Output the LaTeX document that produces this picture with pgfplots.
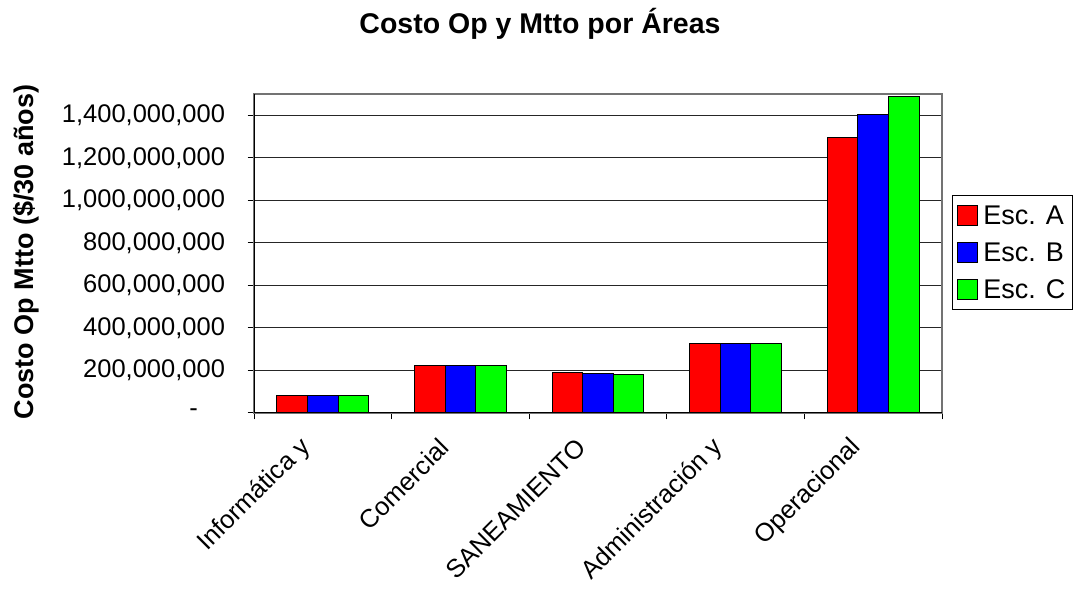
\documentclass[border=0pt]{standalone}
\usepackage{pgfplots}
\pgfplotsset{compat=1.18}
\usepackage{fontspec}
\setmainfont{Liberation Sans}
\definecolor{exred}{HTML}{FF0000}
\definecolor{exblue}{HTML}{0000FF}
\definecolor{exgreen}{HTML}{00FF00}
\begin{document}
\begin{tikzpicture}
\useasboundingbox (0,0) rectangle (1081pt,591pt);
\begin{axis}[
  at={(254pt,178pt)}, anchor=south west,
  scale only axis, width=688pt, height=319pt,
  xmin=0.5, xmax=5.5, ymin=0, ymax=1.5e9,
  ybar=0pt, bar width=30.6pt,
  xtick={0.5,1.5,2.5,3.5,4.5,5.5}, xticklabels={},
  extra x ticks={1,2,3,4,5},
  extra x tick labels={Informática y, Comercial, SANEAMIENTO, Administración y, Operacional},
  extra x tick style={major tick length=0pt, grid=none,
     xticklabel style={xshift=-14pt, rotate=45, anchor=east, font=\fontsize{25.5}{30}\selectfont}},
  xticklabel shift=28pt,
  ytick={0,200000000,400000000,600000000,800000000,1000000000,1200000000,1400000000},
  yticklabels={{-\hspace*{27pt}},{200,000,000},{400,000,000},{600,000,000},{800,000,000},{1,000,000,000},{1,200,000,000},{1,400,000,000}},
  yticklabel style={font=\fontsize{25.5}{30}\selectfont, xshift=-19pt},
  scaled y ticks=false,
  tick align=outside, major tick length=6.5pt,
  xtick pos=bottom, ytick pos=left,
  tick style={black, line width=1pt},
  ymajorgrids, grid style={black!85, line width=1.1pt},
  axis line style={draw=black!55, line width=1.2pt},
  title={\bfseries Costo Op y Mtto por Áreas},
  title style={at={(axis description cs:0.4157,1.2006)}, anchor=center, font=\fontsize{28.5}{33}\selectfont},
  ylabel={\bfseries Costo Op Mtto (\$/30 años)},
  ylabel style={at={(axis description cs:-0.3314,0.505)}, anchor=center, rotate=0, font=\fontsize{27}{32}\selectfont},
  legend style={at={(axis description cs:1.0145,0.6834)}, anchor=north west, draw=black, line width=1pt,
     font=\fontsize{27}{32}\selectfont, inner xsep=5pt, inner ysep=8pt, row sep=13pt, cells={anchor=west}},
  legend image code/.code={\draw[#1, draw=black, line width=1pt] (2pt,-10pt) rectangle (22pt,10pt); \path (25pt,0pt);},
]
\addplot[fill=exred, draw=black, line width=1pt] coordinates {(1,84e6) (2,223e6) (3,192e6) (4,328e6) (5,1294e6)};
\addplot[fill=exblue, draw=black, line width=1pt] coordinates {(1,84e6) (2,223e6) (3,184e6) (4,328e6) (5,1405e6)};
\addplot[fill=exgreen, draw=black, line width=1pt] coordinates {(1,84e6) (2,223e6) (3,181e6) (4,328e6) (5,1486e6)};
\legend{Esc. A, Esc. B, Esc. C}
\draw[black, line width=1.2pt] (rel axis cs:0,1) -- (rel axis cs:0,0) -- (rel axis cs:1,0);
\end{axis}
\end{tikzpicture}
\end{document}
